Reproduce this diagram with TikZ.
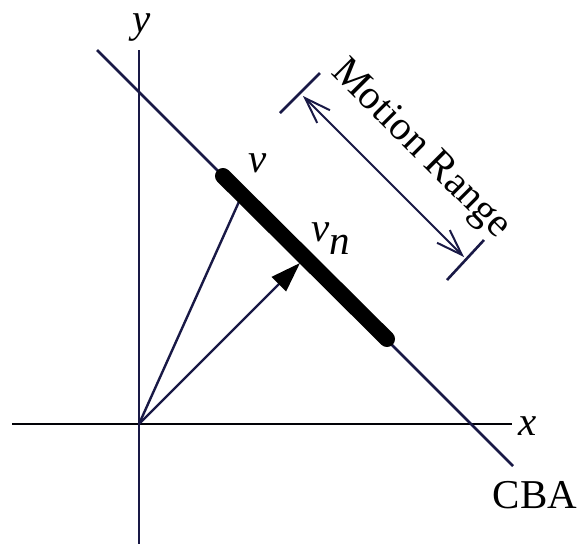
\documentclass[tikz,border=0pt]{standalone}
\usepackage{fontspec}
\setmainfont{Liberation Serif}
\usetikzlibrary{arrows.meta}
\definecolor{ink}{RGB}{25,25,70}
\begin{document}
\begin{tikzpicture}[x=1pt,y=-1pt,
  axisline/.style={draw=ink,line width=2.8pt},
  vecline/.style={draw=ink,line width=2.4pt},
  barline/.style={draw=black,line width=16pt,line cap=round},
  lbl/.style={font=\fontsize{41}{48}\selectfont,inner sep=0pt,text=black},
  rangearrow/.style={draw=ink,line width=2pt,
    {Straight Barb[length=26pt,width=18pt,line width=2pt]}-{Straight Barb[length=26pt,width=18pt,line width=2pt]}},
  tickline/.style={draw=ink,line width=2.6pt}]
\useasboundingbox (0,0) rectangle (582,544);
\fill[white] (0,0) rectangle (582,544);
% coordinates
\coordinate (O) at (139,424);
\coordinate (xs) at (12,424);
\coordinate (xe) at (512,424);
\coordinate (yt) at (139,50);
\coordinate (yb) at (139,544);
\coordinate (c1) at (97,50);
\coordinate (c2) at (513,466);
\coordinate (b1) at (223,176);
\coordinate (b2) at (387,339);
\coordinate (vp) at (242,195);
\coordinate (vn) at (300,263);
\coordinate (m1) at (303,96);
\coordinate (m2) at (464,257);
\coordinate (t1a) at (280,113);
\coordinate (t1b) at (320,73);
\coordinate (t2a) at (447,280);
\coordinate (t2b) at (484,240);
% axes
\draw[axisline,draw=black!90!ink] (xs) -- (xe);
\draw[axisline] (yb) -- (yt);
\draw[axisline] (c1) -- (c2);
% vectors
\draw[vecline] (O) -- (vp);
\draw[vecline,-{Triangle[length=30pt,width=20pt,color=black,fill=black]}] (O) -- (vn);
% bar
\draw[barline] (b1) -- (b2);
% motion range
\draw[tickline] (t1a) -- (t1b);
\draw[tickline] (t2a) -- (t2b);
\draw[rangearrow] (m1) -- (m2);
% labels
\node[lbl] (ylab) at (142,28) {\textit{y}};
\node[lbl] (xlab) at (528,426) {\textit{x}};
\node[lbl] (cba) at (535,495) {CBA};
\node[lbl] (vlab) at (258,163) {\textit{v}};
\node[lbl] (vnlab) at (331,239) {\textit{v}\raisebox{-0.32em}{\textit{n}}};
\node[lbl,rotate=-45] (mr) at (420,150) {Motion Range};
\end{tikzpicture}
\end{document}
